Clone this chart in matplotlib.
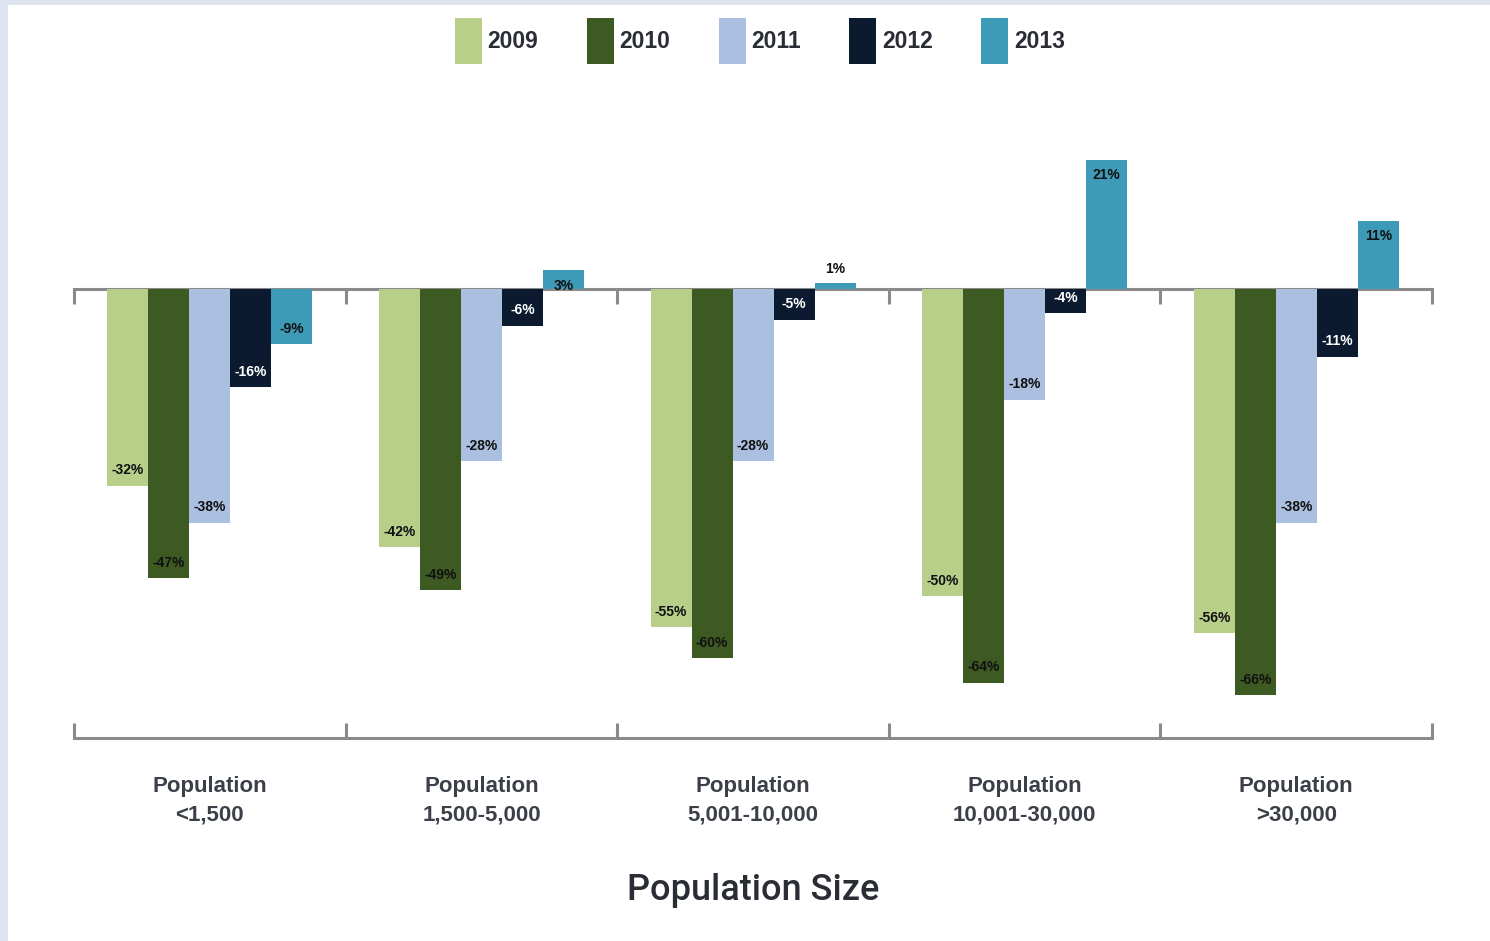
import numpy as np
import matplotlib
matplotlib.use("Agg")
import matplotlib.pyplot as plt
from matplotlib.patches import Rectangle

groups = ["Population\n<1,500", "Population\n1,500-5,000", "Population\n5,001-10,000",
          "Population\n10,001-30,000", "Population\n>30,000"]
years = ["2009", "2010", "2011", "2012", "2013"]
v2009 = [-32, -42, -55, -50, -56]
v2010 = [-47, -49, -60, -64, -66]
v2011 = [-38, -28, -28, -18, -38]
v2012 = [-16, -6, -5, -4, -11]
v2013 = [-9, 3, 1, 21, 11]
series = [v2009, v2010, v2011, v2012, v2013]

colors = ["#b8cf8a", "#3d5a22", "#abbfe0", "#0c1a30", "#3d9bb8"]
label_colors = ["#111111", "#111111", "#111111", "#ffffff", "#111111"]
sans = ["Liberation Sans", "DejaVu Sans"]

fig = plt.figure(figsize=(14.9, 9.41), dpi=100)
fig.patch.set_facecolor("#dde4ef")
fig.add_artist(Rectangle((0.0055, 0), 1, 0.9945, transform=fig.transFigure,
                         facecolor="white", edgecolor="none", zorder=0))

ax = fig.add_axes([0.0497, 0.2157, 0.9114, 0.6343])
ax.set_facecolor("none")

x = np.arange(len(groups)) + 0.5
w = 0.151
for i, (vals, c, lc, yr) in enumerate(zip(series, colors, label_colors, years)):
    pos = x + (i - 2) * w
    bars = ax.bar(pos, vals, width=w, color=c, label=yr, zorder=2)
    for b, v in zip(bars, vals):
        if abs(v) < 2:
            off, va, tc = 5, "bottom", "#111111"
        else:
            off = -11 if v > 0 else 11
            va, tc = "center", lc
        ax.annotate(f"{v}%", (b.get_x() + b.get_width() / 2, v),
                    xytext=(0, off), textcoords="offset points",
                    ha="center", va=va, fontsize=10, fontweight="bold",
                    color=tc, family=sans, zorder=3)

ax.set_xlim(0, 5)
ax.set_ylim(-73, 24)

# bottom frame and the zero line, both with ticks at the group edges
for s in ["left", "right"]:
    ax.spines[s].set_visible(False)
ax.spines["top"].set_position(("data", 0))
for s in ["top", "bottom"]:
    ax.spines[s].set_color("#8a8a8a")
    ax.spines[s].set_linewidth(2.2)
ax.spines["top"].set_zorder(1)
ax.set_xticks(np.arange(0, 6))
ax.set_xticklabels([])
ax.set_xticks(x, minor=True)
ax.set_xticklabels(groups, minor=True, family=sans, fontsize=16,
                   fontweight="bold", color="#3b3f48", linespacing=1.5)
ax.tick_params(axis="x", which="major", top=True, bottom=True, direction="in",
               length=11, width=2.2, color="#8a8a8a", labeltop=False)
ax.tick_params(axis="x", which="minor", length=0, pad=27)
ax.set_yticks([])

ax.set_xlabel("Population Size", family=["Roboto", "DejaVu Sans"], fontsize=26,
              fontweight="medium", color="#2a2d35", labelpad=34)

fig.legend(loc="center", bbox_to_anchor=(0.510, 0.956), ncol=5, frameon=False,
           handlelength=1.18, handleheight=2.7, handletextpad=0.26,
           columnspacing=2.1, prop={"family": sans, "size": 16.5, "weight": "bold"},
           labelcolor="#2a2d35")

fig.savefig("out.png", dpi=100, facecolor=fig.get_facecolor())
